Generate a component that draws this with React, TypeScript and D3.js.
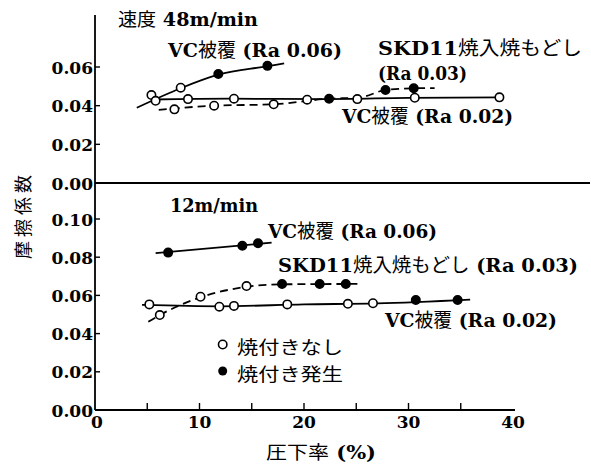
import React from "react";
import * as d3 from "d3";

// ---- data ----
// Top panel: speed 48 m/min
const vc06TopX = [5.4, 8.2, 11.8, 16.5];
const vc06TopY = [0.0455, 0.0493, 0.0564, 0.0606];
const vc06TopFilled = [false, false, true, true];
const vc06TopCurve: [number, number][] = [[4.0, 0.0389], [8.2, 0.0490], [11.8, 0.0560], [16.5, 0.0604], [18.1, 0.0619]];

const vc02TopX = [5.8, 8.9, 13.3, 20.3, 25.1, 30.6, 38.7];
const vc02TopY = [0.0425, 0.0434, 0.0436, 0.0431, 0.0434, 0.0441, 0.0443];
const vc02TopFilled = [false, false, false, false, false, false, false];
const vc02TopCurve: [number, number][] = [[5.5, 0.0432], [13, 0.0436], [22, 0.0434], [30, 0.0440], [38.8, 0.0443]];

const skdTopX = [7.6, 11.4, 17.1, 22.4, 27.8, 30.5];
const skdTopY = [0.0381, 0.0400, 0.0407, 0.0436, 0.0481, 0.0490];
const skdTopFilled = [false, false, false, true, true, true];
const skdTopCurve: [number, number][] = [[6.1, 0.0378], [11.4, 0.0400], [17.1, 0.0407], [22.4, 0.0436], [25.3, 0.0442], [27.8, 0.0481], [30.5, 0.0490], [32.5, 0.0491]];

// Bottom panel: speed 12 m/min
const vc06BotX = [7.0, 14.1, 15.6];
const vc06BotY = [0.0824, 0.0860, 0.0873];
const vc06BotFilled = [true, true, true];
const vc06BotCurve: [number, number][] = [[5.8, 0.0821], [16.9, 0.0876]];

const skdBotX = [6.2, 10.1, 14.5, 17.9, 21.5, 24.0];
const skdBotY = [0.0497, 0.0593, 0.0649, 0.0660, 0.0660, 0.0660];
const skdBotFilled = [false, false, false, true, true, true];
const skdBotCurve: [number, number][] = [[5.1, 0.0462], [6.2, 0.0497], [10.1, 0.0590], [14.5, 0.0645], [17.9, 0.0658], [25.5, 0.0660]];

const vc02BotX = [5.2, 11.9, 13.3, 18.4, 24.2, 26.6, 30.7, 34.7];
const vc02BotY = [0.0553, 0.0541, 0.0545, 0.0553, 0.0556, 0.0559, 0.0576, 0.0576];
const vc02BotFilled = [false, false, false, false, false, false, true, true];
const vc02BotCurve: [number, number][] = [[4.5, 0.0550], [12, 0.0543], [20, 0.0553], [27, 0.0558], [35.9, 0.0578]];

const xTickMarks = [5, 10, 15, 20, 25, 30, 35];
const xTickLabels = [0, 10, 20, 30, 40];
const yTopTicks = [0.02, 0.04, 0.06];
const yBotTicks = [0.02, 0.04, 0.06, 0.08, 0.10];

const SERIF = "'DejaVu Serif', 'Noto Sans CJK JP', serif";
const CJK = "'Noto Sans CJK JP', sans-serif";

export default function App() {
  const x = d3.scaleLinear().domain([0, 40]).range([95, 513]);
  const yTop = d3.scaleLinear().domain([0, 0.06]).range([183, 67]);
  const yBot = d3.scaleLinear().domain([0, 0.1]).range([410, 219]);

  const mkLine = (ys: d3.ScaleLinear<number, number>) =>
    d3.line<[number, number]>().x((d) => x(d[0])).y((d) => ys(d[1])).curve(d3.curveMonotoneX);

  const lt = mkLine(yTop);
  const lb = mkLine(yBot);

  const markers = (xs: number[], vs: number[], fl: boolean[], ys: d3.ScaleLinear<number, number>, key: string) =>
    xs.map((v, i) => (
      <circle key={key + i} cx={x(v)} cy={ys(vs[i])} r={4.2}
        fill={fl[i] ? "#000" : "#fff"} stroke="#000" strokeWidth={1.6} />
    ));

  // Latin parts bold serif, CJK parts regular
  const label = (t: string, x0: number, x1: number, yb: number, fs: number, fam = SERIF, bold = true) => (
    <text x={x0} y={yb} fontSize={fs} fontFamily={fam} textLength={x1 - x0} lengthAdjust="spacingAndGlyphs">
      {t.split(/([\u3000-\u9fff]+)/).filter((s) => s.length > 0).map((s, i) => (
        <tspan key={i} fontWeight={bold && !/[\u3000-\u9fff]/.test(s) ? "bold" : "normal"}
          fontFamily={/[\u3000-\u9fff]/.test(s) ? CJK : fam}>{s}</tspan>
      ))}
    </text>
  );

  return (
    <svg width={591} height={468} style={{ position: "absolute", left: 0, top: 0, background: "#fff" }}>
      <rect x={0} y={0} width={591} height={468} fill="#fff" />
      <g stroke="#000" fill="none" strokeWidth={1.8}>
        {/* y axis */}
        <line x1={95} y1={15} x2={95} y2={410} />
        {/* top panel baseline */}
        <line x1={95} y1={yTop(0)} x2={590} y2={yTop(0)} />
        {/* bottom axis */}
        <line x1={95} y1={yBot(0)} x2={x(40) + 2} y2={yBot(0)} />
        {yTopTicks.map((t) => <line key={"yt" + t} x1={95} x2={100} y1={yTop(t)} y2={yTop(t)} strokeWidth={1.4} />)}
        {yBotTicks.map((t) => <line key={"yb" + t} x1={95} x2={100} y1={yBot(t)} y2={yBot(t)} strokeWidth={1.4} />)}
        {xTickMarks.map((t) => <line key={"xt" + t} x1={x(t)} x2={x(t)} y1={yBot(0)} y2={yBot(0) - 7} strokeWidth={1.4} />)}
      </g>
      <g fontFamily={SERIF} fontSize={17} fontWeight="bold" fill="#000" textAnchor="end">
        {[0, ...yTopTicks].map((t) => <text key={"ytl" + t} x={93} y={yTop(t) + 6.5}>{t.toFixed(2)}</text>)}
        {[0, ...yBotTicks].map((t) => <text key={"ybl" + t} x={93} y={yBot(t) + 6.5}>{t.toFixed(2)}</text>)}
      </g>
      <g fontFamily={SERIF} fontSize={17} fontWeight="bold" fill="#000" textAnchor="middle">
        {xTickLabels.map((t) => <text key={"xl" + t} x={x(t) + (t === 0 ? 2 : 0)} y={428}>{t}</text>)}
      </g>

      {/* lines */}
      <g fill="none" stroke="#000" strokeWidth={1.8}>
        <path d={lt(vc06TopCurve) || ""} />
        <path d={lt(vc02TopCurve) || ""} />
        <path d={lt(skdTopCurve) || ""} strokeDasharray="8 5" />
        <path d={lb(vc06BotCurve) || ""} />
        <path d={lb(vc02BotCurve) || ""} />
        <path d={lb(skdBotCurve) || ""} strokeDasharray="8 5" />
      </g>
      {markers(vc06TopX, vc06TopY, vc06TopFilled, yTop, "a")}
      {markers(vc02TopX, vc02TopY, vc02TopFilled, yTop, "b")}
      {markers(skdTopX, skdTopY, skdTopFilled, yTop, "c")}
      {markers(vc06BotX, vc06BotY, vc06BotFilled, yBot, "d")}
      {markers(skdBotX, skdBotY, skdBotFilled, yBot, "e")}
      {markers(vc02BotX, vc02BotY, vc02BotFilled, yBot, "f")}

      {/* annotations */}
      {label("速度 48m/min", 118, 258, 26, 18)}
      {label("VC被覆 (Ra 0.06)", 168, 342, 57, 19)}
      {label("SKD11焼入焼もどし", 378, 582, 55, 19)}
      {label("(Ra 0.03)", 378, 467, 80, 19)}
      {label("VC被覆 (Ra 0.02)", 342, 513, 123, 19)}
      {label("12m/min", 170, 258, 212, 18)}
      {label("VC被覆 (Ra 0.06)", 268, 437, 238, 19)}
      {label("SKD11焼入焼もどし (Ra 0.03)", 278, 578, 272, 19)}
      {label("VC被覆 (Ra 0.02)", 385, 557, 327, 19)}

      {/* legend */}
      <circle cx={222.7} cy={344.5} r={4.2} fill="#fff" stroke="#000" strokeWidth={1.6} />
      <circle cx={222.7} cy={371} r={4.5} fill="#000" />
      {label("焼付きなし", 237, 343, 354, 18, CJK, false)}
      {label("焼付き発生", 237, 343, 381, 18, CJK, false)}

      {/* axis titles */}
      {label("圧下率 (%)", 266, 376, 459, 18)}
      <text transform="translate(30,215) rotate(-90)" textAnchor="middle" fontSize={18} fontFamily={CJK} letterSpacing={4}>摩擦係数</text>
    </svg>
  );
}
